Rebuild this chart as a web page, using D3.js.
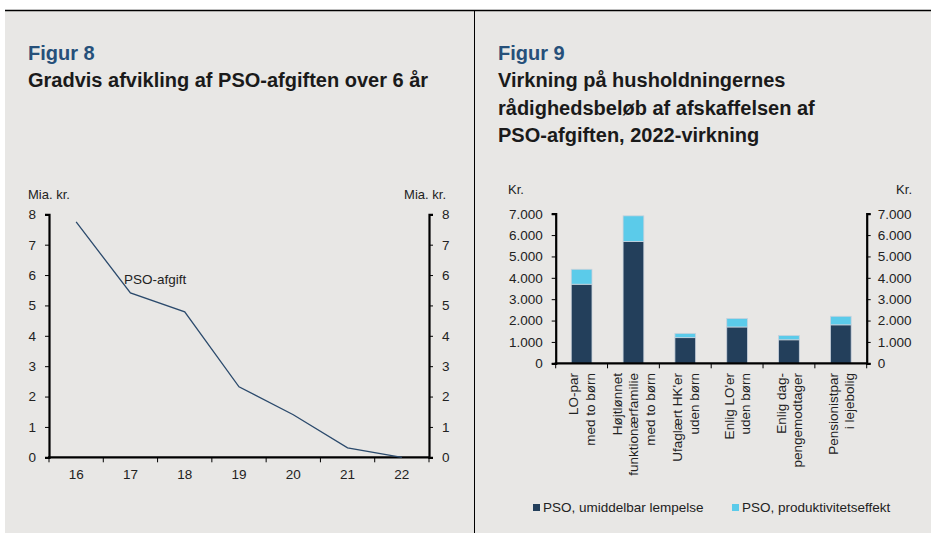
<!DOCTYPE html>
<html>
<head>
<meta charset="utf-8">
<script src="https://cdn.jsdelivr.net/npm/d3@7"></script>
<style>
  body { margin: 0; background: #fff; }
  svg { display: block; font-family: Arial, "Liberation Sans", sans-serif; }
</style>
</head>
<body>
<div id="chart"></div>
<script>
// Figur 8 data
var years = ["16", "17", "18", "19", "20", "21", "22"];
var psoAfgift = [7.75, 5.41, 4.79, 2.32, 1.4, 0.31, 0];
var leftTicks = [0, 1, 2, 3, 4, 5, 6, 7, 8];

// Figur 9 data
var households = [
  ["LO-par", "med to børn"],
  ["Højtlønnet", "funktionærfamilie", "med to børn"],
  ["Ufaglært HK'er", "uden børn"],
  ["Enlig LO'er", "uden børn"],
  ["Enlig dag-", "pengemodtager"],
  ["Pensionistpar", "i lejebolig"]
];
var umiddelbar = [3700, 5700, 1200, 1700, 1100, 1800];
var produktivitet = [700, 1200, 200, 400, 200, 400];
var rightTicks = [0, 1000, 2000, 3000, 4000, 5000, 6000, 7000];
var seriesNames = ["PSO, umiddelbar lempelse", "PSO, produktivitetseffekt"];

var W = 931, H = 533;
var bg = "#e8e7e5", navy = "#233f5b", cyan = "#5bcbea", blue = "#26507a";
var fs = 13.5;
var fmt = function (d) { return d3.format(",")(d).replace(/,/g, "."); };

var svg = d3.select("#chart").append("svg")
  .attr("width", W).attr("height", H);

// panel background and frame lines
svg.append("rect").attr("x", 5).attr("y", 10).attr("width", W - 5).attr("height", H - 10)
  .attr("fill", bg);
svg.append("line").attr("x1", 5).attr("x2", W).attr("y1", 10.5).attr("y2", 10.5)
  .attr("stroke", "#000").attr("stroke-width", 1.5);
svg.append("line").attr("x1", 474.5).attr("x2", 474.5).attr("y1", 10).attr("y2", H)
  .attr("stroke", "#000").attr("stroke-width", 1);

// titles
function title(x, lines) {
  svg.append("text").attr("x", x).attr("y", 60)
    .attr("fill", blue).attr("font-weight", "bold").attr("font-size", 20)
    .text(lines[0]);
  lines.slice(1).forEach(function (t, i) {
    svg.append("text").attr("x", x).attr("y", 87.3 + i * 27.2)
      .attr("fill", "#1a1a1a").attr("font-weight", "bold").attr("font-size", 20)
      .text(t);
  });
}
title(28, ["Figur 8", "Gradvis afvikling af PSO-afgiften over 6 år"]);
title(498, ["Figur 9", "Virkning på husholdningernes", "rådighedsbeløb af afskaffelsen af", "PSO-afgiften, 2022-virkning"]);

function styleAxis(g) {
  g.select(".domain").attr("stroke-width", 2.2);
  g.selectAll("text").attr("font-size", fs).attr("fill", "#222").attr("font-family", null);
}

// ---------- Figur 8: line chart ----------
var x8 = d3.scaleBand().domain(years).range([49, 429]);
var y8 = d3.scaleLinear().domain([0, 8]).range([457.3, 214.3]);

var g8 = svg.append("g").attr("font-size", fs).attr("fill", "#222");

g8.append("g").attr("transform", "translate(49,0)")
  .call(d3.axisLeft(y8).tickValues(leftTicks).tickSize(4).tickPadding(9))
  .call(styleAxis);
g8.append("g").attr("transform", "translate(429,0)")
  .call(d3.axisRight(y8).tickValues(leftTicks).tickSize(4).tickPadding(9))
  .call(styleAxis);

// x axis: ticks at band edges, labels at band centers
var xEdges8 = years.map(function (d) { return x8(d); }).concat([x8.range()[1]]);
g8.append("line").attr("x1", 48).attr("x2", 430).attr("y1", y8(0)).attr("y2", y8(0))
  .attr("stroke", "#000").attr("stroke-width", 2.2);
g8.selectAll(".xt").data(xEdges8).enter().append("line")
  .attr("x1", function (d) { return d; }).attr("x2", function (d) { return d; })
  .attr("y1", y8(0)).attr("y2", y8(0) + 5).attr("stroke", "#000");
g8.selectAll(".xl").data(years).enter().append("text")
  .attr("x", function (d) { return x8(d) + x8.bandwidth() / 2; })
  .attr("y", 479).attr("text-anchor", "middle").attr("font-size", fs).attr("fill", "#222")
  .text(function (d) { return d; });

g8.append("text").attr("x", 28).attr("y", 199).attr("font-size", 13).text("Mia. kr.");
g8.append("text").attr("x", 446).attr("y", 199).attr("font-size", 13)
  .attr("text-anchor", "end").text("Mia. kr.");

var line8 = d3.line()
  .x(function (d, i) { return x8(years[i]) + x8.bandwidth() / 2; })
  .y(function (d) { return y8(d); });
g8.append("path").datum(psoAfgift).attr("d", line8)
  .attr("fill", "none").attr("stroke", "#2b4a6c").attr("stroke-width", 1.3);
g8.append("text").attr("x", 124).attr("y", 284).attr("font-size", fs).text("PSO-afgift");

// ---------- Figur 9: stacked bars ----------
var cats = households.map(function (d) { return d.join(" "); });
var x9 = d3.scaleBand().domain(cats).range([555.7, 866.7]);
var y9 = d3.scaleLinear().domain([0, 7000]).range([363.3, 213.7]);
var g9 = svg.append("g").attr("font-size", fs).attr("fill", "#222");

var stackData = cats.map(function (c, i) {
  return { cat: c, a: umiddelbar[i], b: produktivitet[i] };
});
var series = d3.stack().keys(["a", "b"])(stackData);
var barW = x9.bandwidth() * 0.4;

g9.selectAll(".s").data(series).enter().append("g")
  .attr("fill", function (d, i) { return i === 0 ? navy : cyan; })
  .selectAll("rect").data(function (d) { return d; }).enter().append("rect")
  .attr("x", function (d) { return x9(d.data.cat) + (x9.bandwidth() - barW) / 2; })
  .attr("width", barW)
  .attr("y", function (d) { return y9(d[1]); })
  .attr("height", function (d) { return y9(d[0]) - y9(d[1]); })
  .attr("stroke", "#c8d2dc").attr("stroke-width", 0.8);

g9.append("g").attr("transform", "translate(555.7,0)")
  .call(d3.axisLeft(y9).tickValues(rightTicks).tickFormat(fmt).tickSize(4).tickPadding(9))
  .call(styleAxis);
g9.append("g").attr("transform", "translate(866.7,0)")
  .call(d3.axisRight(y9).tickValues(rightTicks).tickFormat(fmt).tickSize(4).tickPadding(7))
  .call(styleAxis);

var xEdges9 = cats.map(function (d) { return x9(d); }).concat([x9.range()[1]]);
g9.append("line").attr("x1", 554.7).attr("x2", 867.7).attr("y1", y9(0)).attr("y2", y9(0))
  .attr("stroke", "#000").attr("stroke-width", 2.2);
g9.selectAll(".xt").data(xEdges9).enter().append("line")
  .attr("x1", function (d) { return d; }).attr("x2", function (d) { return d; })
  .attr("y1", y9(0)).attr("y2", y9(0) + 5).attr("stroke", "#000");

// rotated multi-line category labels
households.forEach(function (lines, i) {
  var cx = x9(cats[i]) + x9.bandwidth() / 2;
  var n = lines.length;
  lines.forEach(function (t, j) {
    var lx = cx + (j - (n - 1) / 2) * 16.5 + 5;
    g9.append("text")
      .attr("transform", "translate(" + lx + ",373) rotate(-90)")
      .attr("text-anchor", "end").attr("font-size", fs).attr("fill", "#222")
      .text(t);
  });
});

g9.append("text").attr("x", 508).attr("y", 194).attr("font-size", 13).text("Kr.");
g9.append("text").attr("x", 912).attr("y", 194).attr("font-size", 13)
  .attr("text-anchor", "end").text("Kr.");

// legend
var legX = [533, 732];
seriesNames.forEach(function (name, i) {
  g9.append("rect").attr("x", legX[i]).attr("y", 504).attr("width", 7).attr("height", 7)
    .attr("fill", i === 0 ? navy : cyan);
  g9.append("text").attr("x", legX[i] + 10).attr("y", 512).attr("font-size", fs)
    .attr("fill", "#222").text(name);
});
</script>
</body>
</html>
